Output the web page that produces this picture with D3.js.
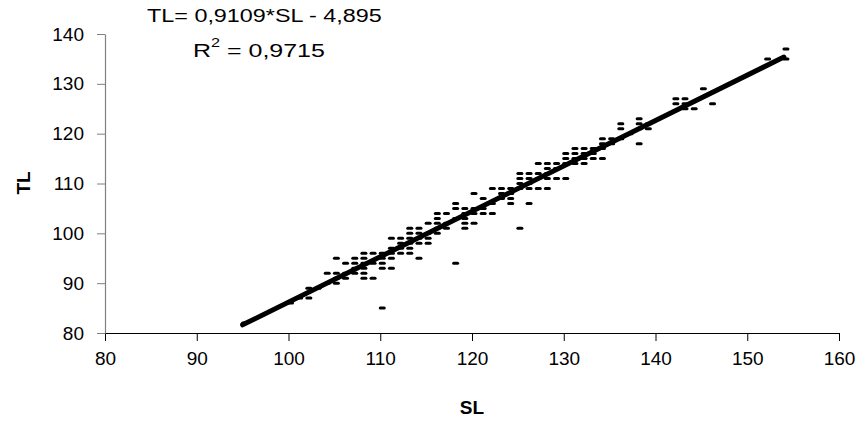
<!DOCTYPE html>
<html><head><meta charset="utf-8">
<script src="https://cdn.jsdelivr.net/npm/d3@7"></script>
<style>
body{margin:0;background:#fff;}
text{font-family:"Liberation Sans",Arial,sans-serif;}
</style></head>
<body>
<svg id="c" width="865" height="425"></svg>
<script>
const slValues = [95,100,101,102,102,103,104,104,105,105,105,105,106,106,106,107,107,107,107,
 108,108,108,108,108,108,109,109,109,110,110,110,110,110,111,111,111,111,111,112,112,112,112,
 113,113,113,113,113,113,114,114,114,114,114,115,115,115,115,116,116,116,116,116,117,117,117,
 118,118,118,118,119,119,119,119,119,120,120,120,120,121,121,121,122,122,122,123,123,123,
 124,124,124,124,125,125,125,125,125,126,126,126,126,126,127,127,127,127,128,128,128,128,128,
 129,129,129,130,130,130,130,131,131,131,131,132,132,132,132,133,133,133,134,134,134,134,
 135,135,136,136,136,137,138,138,138,138,139,139,142,142,143,143,143,144,145,146,152,154,154];
const tlValues = [82,86,87,89,87,89,92,90,95,92,90,91,94,91,92,95,94,92,93,
 96,95,94,92,91,93,96,91,94,96,94,93,85,95,99,97,95,93,96,99,98,97,96,
 101,100,99,97,96,98,101,100,98,95,99,102,100,99,98,104,103,102,100,101,104,101,102,
 106,105,94,103,105,103,102,101,104,108,105,102,104,107,104,105,109,104,106,109,108,107,
 109,108,107,106,112,111,110,109,101,112,111,109,106,110,114,112,111,109,114,113,112,111,109,
 114,111,113,116,115,111,114,117,116,115,114,117,116,115,114,117,116,115,119,118,115,117,
 119,118,122,121,119,120,123,122,118,121,121,122,127,126,127,126,125,125,129,126,135,137,135];
// Linear trend line: TL = 0.9109*SL - 4.895, drawn over the SL range of the data
const trendSlope = 0.9109, trendIntercept = -4.895;
const trendRange = [95, 154];
const xTicks = [80,90,100,110,120,130,140,150,160];
const yTicks = [80,90,100,110,120,130,140];
const eqText = "TL= 0,9109*SL - 4,895";
const r2Label = "0,9715";

const svg = d3.select("#c");
const x = d3.scaleLinear().domain([80,160]).range([105,839]);
const y = d3.scaleLinear().domain([80,140]).range([333,34]);
const FS = 19;

// X axis
const gx = svg.append("g").attr("transform","translate(0,333)")
  .call(d3.axisBottom(x).tickValues(xTicks).tickSize(8).tickPadding(11).tickSizeOuter(0));
gx.select(".domain").attr("stroke","#000").attr("stroke-width",1.2);
gx.selectAll(".tick line").attr("stroke","#000");
gx.selectAll("text").attr("font-size",FS).attr("fill","#000")
  .attr("font-family","'Liberation Sans',Arial,sans-serif");

// Y axis
const gy = svg.append("g").attr("transform","translate(105,0)")
  .call(d3.axisLeft(y).tickValues(yTicks).tickSize(8).tickPadding(13).tickSizeOuter(0));
gy.select(".domain").attr("stroke","#808080").attr("stroke-width",1.2);
gy.selectAll(".tick line").attr("stroke","#808080");
gy.selectAll("text").attr("font-size",FS).attr("fill","#000")
  .attr("font-family","'Liberation Sans',Arial,sans-serif");

// Points: short horizontal dashes
const pts = slValues.map((s,i)=>({sl:s, tl:tlValues[i]}));
svg.append("g").selectAll("rect").data(pts).enter().append("rect")
  .attr("x", d=>x(d.sl)-3.5+2).attr("y", d=>y(d.tl)-1.5)
  .attr("width",7).attr("height",3).attr("rx",1.5).attr("fill","#000");

// Trend line
svg.append("line")
  .attr("x1", x(trendRange[0])).attr("y1", y(trendSlope*trendRange[0]+trendIntercept))
  .attr("x2", x(trendRange[1])).attr("y2", y(trendSlope*trendRange[1]+trendIntercept))
  .attr("stroke","#000").attr("stroke-width",5).attr("stroke-linecap","round");

// Axis titles
svg.append("text").attr("x",472).attr("y",414).attr("text-anchor","middle")
  .attr("font-size",FS).attr("font-weight","bold").text("SL");
svg.append("text").attr("transform","translate(30,183) rotate(-90)").attr("text-anchor","middle")
  .attr("font-size",FS).attr("font-weight","bold").text("TL");

// Equation annotation (stretched to match the reference text box)
function stretched(x0, base, width, build){
  const g = svg.append("g");
  const t = g.append("text").attr("font-size",18.5).attr("fill","#000");
  build(t);
  const w = t.node().getBBox().width;
  g.attr("transform",`translate(${x0},${base}) scale(${width/w},1)`);
}
stretched(147, 22, 235, t=>t.text(eqText));
stretched(193, 57, 132, t=>{
  t.append("tspan").text("R");
  t.append("tspan").attr("font-size",12).attr("dy",-10).text("2");
  t.append("tspan").attr("dy",10).text(" = " + r2Label);
});
</script>
</body></html>
